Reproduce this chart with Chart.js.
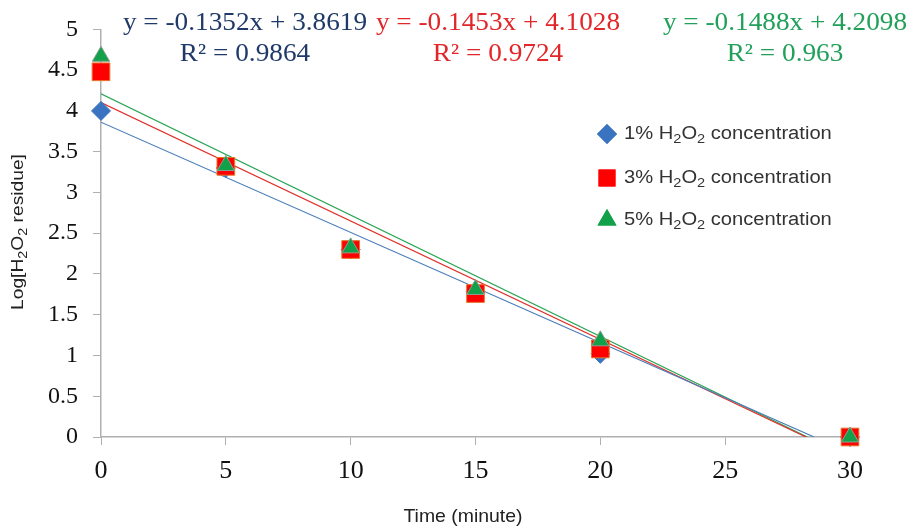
<!DOCTYPE html>
<html>
<head>
<meta charset="utf-8">
<script src="https://cdn.jsdelivr.net/npm/chart.js@4/dist/chart.umd.min.js"></script>
<style>
  html, body { margin: 0; padding: 0; background: #fff; }
  #wrap { width: 912px; height: 529px; position: relative; }
</style>
</head>
<body>
<div id="wrap"><canvas id="grafico" width="912" height="529"></canvas></div>
<script>
// Dados
const tempos = [0, 5, 10, 15, 20, 30];
const conc1 = [4.0, 3.3, 2.3, 1.78, 1.02, 0];
const conc3 = [4.48, 3.32, 2.3, 1.76, 1.08, 0];
const conc5 = [4.67, 3.33, 2.32, 1.81, 1.18, 0];

// Linhas de tendência (coeficientes mostrados no gráfico)
const inclinacoes = [-0.1352, -0.1453, -0.1488];
const interceptos = [3.8619, 4.1028, 4.2098];
const r2 = ['0.9864', '0.9724', '0.963'];

const nomes = ['1%', '3%', '5%'];
const coresMarcador = ['#3a74c0', '#ff0000', '#12a14a'];
const coresLinha = ['#4a7ebb', '#e0302a', '#2aa556'];
const coresEquacao = ['#1f3a68', '#e2262a', '#22a05a'];

const SERIF = '"Liberation Serif", "Times New Roman", serif';
const SANS = '"Liberation Sans", Arial, sans-serif';

const pontos = vals => tempos.map((t, i) => ({ x: t, y: vals[i] }));
const tendencia = k => [
    { x: 0, y: interceptos[k] },
    { x: -interceptos[k] / inclinacoes[k], y: 0 }
];

// Desenha texto com subscritos "2"
function textoH2O2(ctx, partes, x, y, tam) {
    partes.forEach(p => {
        if (p.sub) {
            ctx.font = `${Math.round(tam * 0.72)}px ${SANS}`;
            ctx.fillText(p.t, x, y + tam * 0.3);
        } else {
            ctx.font = `${tam}px ${SANS}`;
            ctx.fillText(p.t, x, y);
        }
        x += ctx.measureText(p.t).width;
    });
    return x;
}
function larguraH2O2(ctx, partes, tam) {
    let w = 0;
    partes.forEach(p => {
        ctx.font = p.sub ? `${Math.round(tam * 0.72)}px ${SANS}` : `${tam}px ${SANS}`;
        w += ctx.measureText(p.t).width;
    });
    return w;
}
// texto esticado na horizontal
function textoLargo(ctx, txt, x, y, esticar) {
    ctx.save();
    ctx.translate(x, y);
    ctx.scale(esticar, 1);
    ctx.fillText(txt, 0, 0);
    ctx.restore();
}

const extras = {
    id: 'extras',
    afterDraw(chart) {
        const ctx = chart.ctx;
        ctx.save();
        // Equações
        const cx = [245, 498, 785];
        ctx.textAlign = 'center';
        ctx.textBaseline = 'middle';
        ctx.font = `25px ${SERIF}`;
        for (let k = 0; k < 3; k++) {
            ctx.fillStyle = coresEquacao[k];
            textoLargo(ctx, `y = ${inclinacoes[k]}x + ${interceptos[k]}`, cx[k], 23, 1.09);
            textoLargo(ctx, `R² = ${r2[k]}`, cx[k], 54, 1.09);
        }

        // Legenda
        ctx.textAlign = 'left';
        ctx.textBaseline = 'middle';
        const linhas = [134, 178, 220];
        const estilos = ['rectRot', 'rect', 'triangle'];
        const raios = [10, 12, 11];
        for (let k = 0; k < 3; k++) {
            ctx.fillStyle = coresMarcador[k];
            Chart.helpers.drawPoint(ctx, { pointStyle: estilos[k], radius: raios[k], borderWidth: 0 }, 607, linhas[k]);
            ctx.fill();
            ctx.save();
            ctx.translate(624, linhas[k]);
            ctx.scale(1.12, 1);
            ctx.fillStyle = '#333';
            textoH2O2(ctx, [{ t: nomes[k] + ' H' }, { t: '2', sub: true }, { t: 'O' }, { t: '2', sub: true }, { t: ' concentration' }], 0, 0, 18);
            ctx.restore();
        }

        // Título do eixo Y
        ctx.save();
        ctx.translate(19, 232);
        ctx.rotate(-Math.PI / 2);
        ctx.scale(1.2, 1);
        ctx.fillStyle = '#222';
        const partesY = [{ t: 'Log[H' }, { t: '2', sub: true }, { t: 'O' }, { t: '2', sub: true }, { t: ' residue]' }];
        const w = larguraH2O2(ctx, partesY, 16);
        textoH2O2(ctx, partesY, -w / 2, 0, 16);
        ctx.restore();

        // Título do eixo X
        ctx.fillStyle = '#222';
        ctx.textAlign = 'center';
        ctx.font = `18.5px ${SANS}`;
        textoLargo(ctx, 'Time (minute)', 463, 517, 1.05);
        ctx.restore();
    }
};

const datasets = [];
for (let k = 0; k < 3; k++) {
    datasets.push({
        type: 'line',
        label: 'trend ' + nomes[k],
        data: tendencia(k),
        borderColor: coresLinha[k],
        borderWidth: 1.2,
        pointRadius: 0,
        fill: false,
        order: 10 + k
    });
}
const series = [conc1, conc3, conc5];
const estilosPonto = ['rectRot', 'rect', 'triangle'];
const raiosPonto = [9.5, 12.5, 10];
const bordas = ['#3a74c0', '#e8742a', '#8aa090'];
for (let k = 0; k < 3; k++) {
    datasets.push({
        label: nomes[k] + ' H2O2 concentration',
        data: pontos(series[k]),
        pointStyle: estilosPonto[k],
        pointRadius: raiosPonto[k],
        pointHoverRadius: raiosPonto[k],
        backgroundColor: coresMarcador[k],
        borderColor: bordas[k],
        borderWidth: 1,
        showLine: false,
        clip: false,
        order: 2 - k
    });
}

const ctx = document.getElementById('grafico').getContext('2d');
new Chart(ctx, {
    type: 'scatter',
    data: { datasets },
    options: {
        responsive: false,
        animation: false,
        layout: { padding: { top: 29, right: 62, left: 0, bottom: 0 } },
        plugins: {
            legend: { display: false },
            tooltip: { enabled: false }
        },
        scales: {
            x: {
                type: 'linear',
                min: 0,
                max: 30,
                ticks: {
                    stepSize: 5,
                    color: '#111',
                    padding: 11,
                    font: { family: SERIF, size: 26 }
                },
                grid: { drawOnChartArea: false, drawTicks: true, tickLength: 8, color: '#b0b0b0' },
                border: { display: true, color: '#b0b0b0', width: 1.5 },
                afterFit(s) { s.height = 92; }
            },
            y: {
                min: 0,
                max: 5,
                ticks: {
                    stepSize: 0.5,
                    color: '#111',
                    padding: 15,
                    font: { family: SERIF, size: 24 },
                    callback: v => String(v)
                },
                grid: { drawOnChartArea: false, drawTicks: true, tickLength: 8, color: '#b0b0b0' },
                border: { display: true, color: '#b0b0b0', width: 1.5 },
                afterFit(s) { s.width = 101; }
            }
        }
    },
    plugins: [extras]
});
</script>
</body>
</html>
